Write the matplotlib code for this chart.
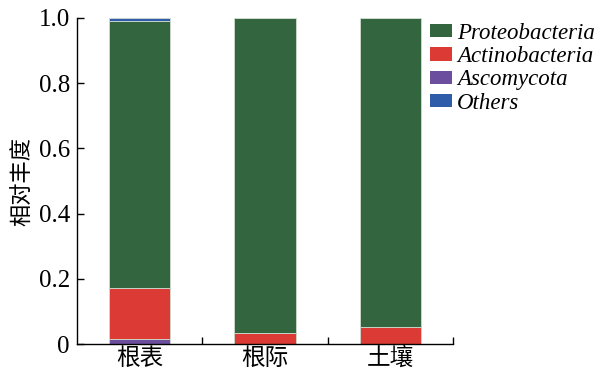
import numpy as np
import matplotlib.pyplot as plt
from matplotlib.patches import Patch

plt.rcParams['font.family'] = ['Liberation Serif', 'Noto Sans CJK SC']

# 样品部位与各门相对丰度
sites = ['根表', '根际', '土壤']
phyla = ['Proteobacteria', 'Actinobacteria', 'Ascomycota', 'Others']
ascomycota = [0.015, 0.0, 0.0]
actinobacteria = [0.158, 0.035, 0.051]
others = [0.008, 0.0, 0.0]
proteobacteria = [1 - a - b - c for a, b, c in zip(ascomycota, actinobacteria, others)]

colors = {'Proteobacteria': '#33653f', 'Actinobacteria': '#db3a35',
          'Ascomycota': '#6b4e9e', 'Others': '#2f5ca8'}

fig = plt.figure(figsize=(6, 3.74), dpi=100)
ax = fig.add_axes([0.128, 0.080, 0.627, 0.872])

x = np.arange(len(sites))
w = 0.49
bottom = np.zeros(len(sites))
for name, vals in [('Ascomycota', ascomycota), ('Actinobacteria', actinobacteria),
                   ('Proteobacteria', proteobacteria), ('Others', others)]:
    ax.bar(x, vals, w, bottom=bottom, color=colors[name],
           edgecolor='#cfdccf', linewidth=0.6)
    bottom += np.array(vals)

ax.set_xlim(-0.5, len(sites) - 0.5)
ax.set_ylim(0, 1.0)
ax.set_yticks([0, 0.2, 0.4, 0.6, 0.8, 1.0])
ax.set_yticklabels(['0', '0.2', '0.4', '0.6', '0.8', '1.0'])
ax.set_xticks(x)
ax.set_xticklabels(sites, fontfamily='Noto Sans CJK SC')
ax.set_xticks(np.arange(len(sites)) + 0.5, minor=True)
ax.tick_params(axis='x', which='major', length=0, labelsize=17, pad=2)
ax.tick_params(axis='x', which='minor', direction='in', length=5, width=1)
ax.tick_params(axis='y', direction='in', length=5, width=1, labelsize=18, pad=5)
ax.spines['top'].set_visible(False)
ax.spines['right'].set_visible(False)
for s in ('left', 'bottom'):
    ax.spines[s].set_linewidth(1)
ax.set_ylabel('相对丰度', fontfamily='Noto Sans CJK SC', fontsize=16, labelpad=3)

handles = [Patch(facecolor=colors[p], edgecolor='none') for p in phyla]
leg = ax.legend(handles, phyla, loc='upper left', bbox_to_anchor=(0.94, 0.985),
                frameon=False, prop={'family': 'Liberation Serif', 'style': 'italic', 'size': 16.5},
                handlelength=0.92, handleheight=0.5, handletextpad=0.25, labelspacing=0.1,
                borderaxespad=0, borderpad=0)

fig.savefig('out.png', dpi=100)
